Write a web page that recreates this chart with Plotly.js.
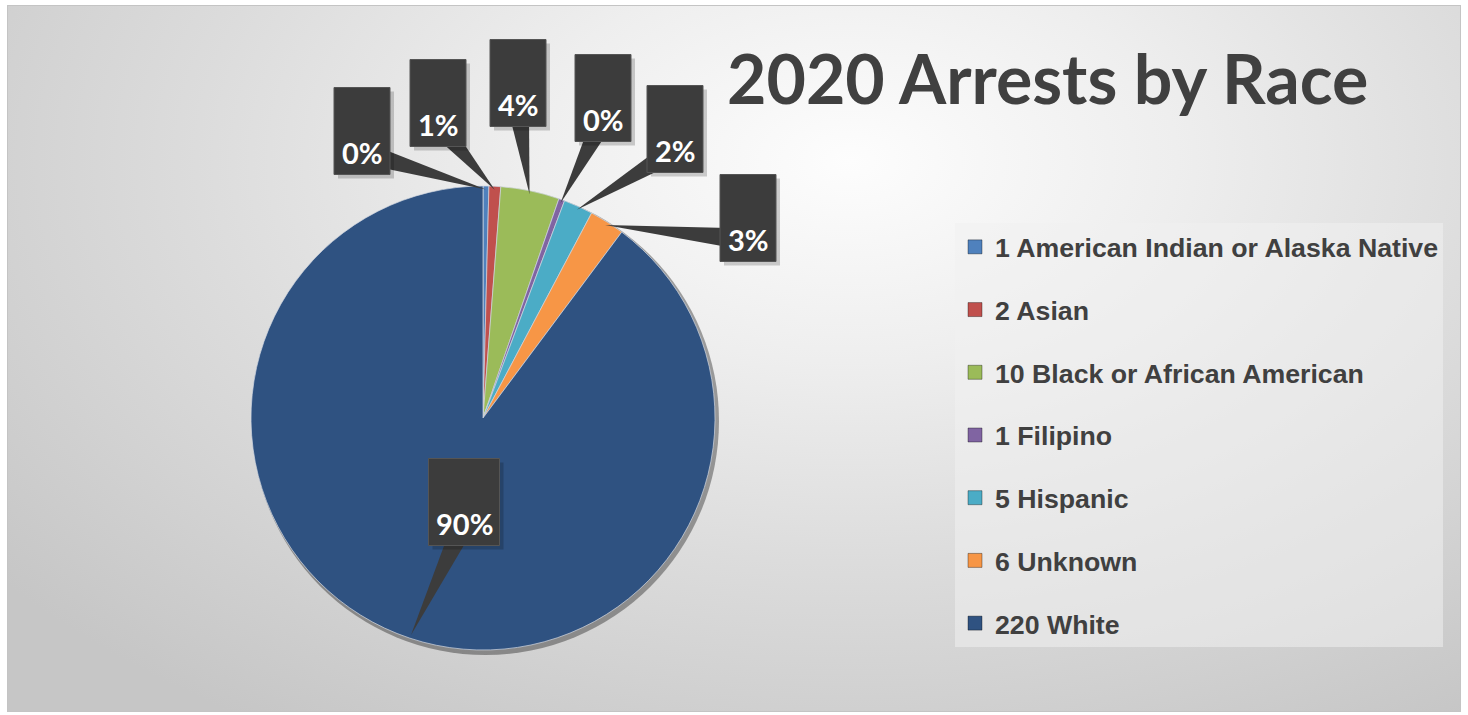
<!DOCTYPE html>
<html>
<head>
<meta charset="utf-8">
<script src="https://cdn.plot.ly/plotly-3.0.1.min.js"></script>
<style>
  html, body { margin:0; padding:0; background:#ffffff; }
  #frame { position:absolute; left:7px; top:5px; width:1454px; height:707px;
    border:1px solid #c4c4c4; box-sizing:border-box;
    background: radial-gradient(ellipse 75% 95% at 58% 22%, #fdfdfd 0%, #eeeeee 30%, #dcdcdc 60%, #c6c6c6 100%); }
  #chart { position:absolute; left:0; top:0; width:1468px; height:715px; }
</style>
</head>
<body>
<div id="frame"></div>
<div id="chart"></div>
<script>
// ---- data ----
const categories = ['American Indian or Alaska Native', 'Asian', 'Black or African American', 'Filipino', 'Hispanic', 'Unknown', 'White'];
const counts = [1, 2, 10, 1, 5, 6, 220];
const pctLabels = ['0%', '1%', '4%', '0%', '2%', '3%', '90%'];
const titleText = '2020 Arrests by Race';

// ---- styles / layout config ----
const colors = ['#4F81BD', '#C0504D', '#9BBB59', '#8064A2', '#4BACC6', '#F79646', '#2F5281'];
const W = 1468, H = 715;
const pie = { cx: 483, cy: 418, r: 232 };
// callout box centres (px)
const boxCenters = [[362, 131], [438, 103], [518, 83], [603, 98], [675, 129], [748, 218], [464, 502]];
const boxH = 87;

const px = v => v / W;
const py = v => 1 - v / H;

const legendLabels = counts.map((c, i) => c + ' ' + categories[i]);
const total = counts.reduce((a, b) => a + b, 0);

const traces = [{
  type: 'pie',
  values: counts,
  labels: categories,
  sort: false,
  direction: 'clockwise',
  rotation: 0,
  textinfo: 'none',
  hoverinfo: 'label+value+percent',
  showlegend: false,
  marker: { colors: colors, line: { color: 'rgba(210,215,225,0.7)', width: 1 } },
  domain: { x: [px(pie.cx - pie.r), px(pie.cx + pie.r)], y: [py(pie.cy + pie.r), py(pie.cy - pie.r)] }
}];

// legend entries (one group each so spacing can be set)
categories.forEach((c, i) => {
  traces.push({
    type: 'scatter', x: [null], y: [null], mode: 'markers',
    name: legendLabels[i], legendgroup: 'g' + i, showlegend: true, hoverinfo: 'skip',
    marker: { symbol: 'square', size: 14, color: colors[i], line: { color: 'rgba(0,0,0,0.35)', width: 1 } }
  });
});

const shapes = [];
const annotations = [];

// pie shadow
shapes.push({ type: 'circle', xref: 'paper', yref: 'paper', layer: 'below',
  x0: px(pie.cx - pie.r + 1), x1: px(pie.cx + pie.r + 4), y0: py(pie.cy + pie.r + 5), y1: py(pie.cy - pie.r + 1),
  fillcolor: 'rgba(0,0,0,0.35)', line: { width: 0 } });

let cum = 0;
counts.forEach((v, i) => {
  const mid = (cum + v / 2) / total * 2 * Math.PI;
  cum += v;
  const tx = pie.cx + pie.r * 0.985 * Math.sin(mid);
  const ty = pie.cy - pie.r * 0.985 * Math.cos(mid);
  const [bx, by] = boxCenters[i];
  const bw = pctLabels[i].length > 2 ? 71 : 56;
  const textY = by + boxH / 2 - 22;
  // wedge pointer from text centre to tip
  const dx = bx - tx, dy = textY - ty;
  const len = Math.hypot(dx, dy);
  const nx = -dy / len, ny = dx / len;
  const hw = 11;
  const b1 = [bx + nx * hw, textY + ny * hw], b2 = [bx - nx * hw, textY - ny * hw];
  const path = `M ${px(tx)} ${py(ty)} L ${px(b1[0])} ${py(b1[1])} L ${px(b2[0])} ${py(b2[1])} Z`;
  shapes.push({ type: 'path', xref: 'paper', yref: 'paper', layer: 'above', path: path,
    fillcolor: '#3c3c3c', line: { width: 0 } });
  // box shadow
  shapes.push({ type: 'rect', xref: 'paper', yref: 'paper', layer: 'above',
    x0: px(bx - bw / 2 + 4), x1: px(bx + bw / 2 + 4), y0: py(by + boxH / 2 + 4), y1: py(by - boxH / 2 + 4),
    fillcolor: 'rgba(0,0,0,0.18)', line: { width: 0 } });
  shapes.push({ type: 'rect', xref: 'paper', yref: 'paper', layer: 'above',
    x0: px(bx - bw / 2), x1: px(bx + bw / 2), y0: py(by + boxH / 2), y1: py(by - boxH / 2),
    fillcolor: '#3c3c3c', line: { color: '#555', width: 1 } });
  annotations.push({ xref: 'paper', yref: 'paper', x: px(bx), y: py(textY), xanchor: 'center', yanchor: 'middle',
    showarrow: false, text: pctLabels[i],
    font: { family: 'Lato, "Open Sans", sans-serif', size: 29, color: '#ffffff', weight: 700 } });
});

annotations.push({ xref: 'paper', yref: 'paper', x: px(1047), y: py(77), xanchor: 'center', yanchor: 'middle',
  showarrow: false, text: titleText,
  font: { family: 'Lato, "Open Sans", sans-serif', size: 68, color: '#404040', weight: 700 } });

const layout = {
  width: W, height: H,
  margin: { l: 0, r: 0, t: 0, b: 0 },
  paper_bgcolor: 'rgba(0,0,0,0)', plot_bgcolor: 'rgba(0,0,0,0)',
  xaxis: { visible: false }, yaxis: { visible: false },
  showlegend: true,
  legend: {
    x: px(955), xanchor: 'left', y: py(223), yanchor: 'top',
    bgcolor: 'rgba(240,240,240,0.55)', borderwidth: 0,
    font: { family: '"Liberation Sans", Arial, sans-serif', size: 26.7, color: '#404040', weight: 700 },
    tracegroupgap: 25, itemsizing: 'trace', itemclick: false, itemdoubleclick: false
  },
  shapes: shapes,
  annotations: annotations
};

Plotly.newPlot('chart', traces, layout, { displayModeBar: false, staticPlot: true });
</script>
</body>
</html>
